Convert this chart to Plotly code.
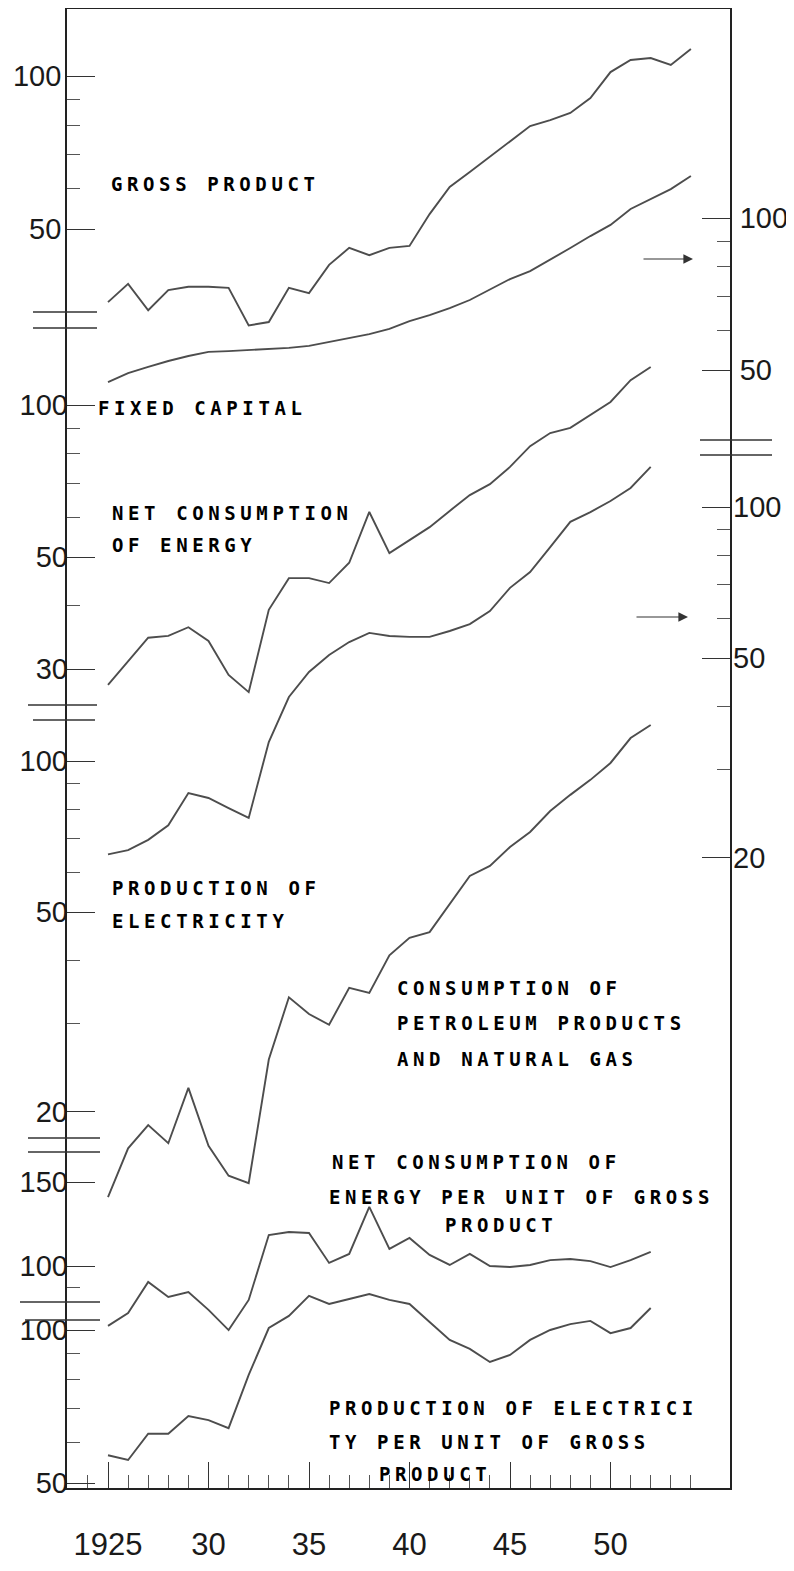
import math
import plotly.graph_objects as go

# ---------------- data (index numbers) ----------------
years_long = [1925, 1926, 1927, 1928, 1929, 1930, 1931, 1932, 1933, 1934,
              1935, 1936, 1937, 1938, 1939, 1940, 1941, 1942, 1943, 1944,
              1945, 1946, 1947, 1948, 1949, 1950, 1951, 1952, 1953, 1954]
years_short = [1925, 1926, 1927, 1928, 1929, 1930, 1931, 1932, 1933, 1934,
               1935, 1936, 1937, 1938, 1939, 1940, 1941, 1942, 1943, 1944,
               1945, 1946, 1947, 1948, 1949, 1950, 1951, 1952]

gross_product = [35.9, 39.0, 34.6, 37.9, 38.5, 38.5, 38.3, 32.3, 32.8, 38.3,
                 37.4, 42.5, 45.9, 44.4, 45.9, 46.3, 53.5, 60.5, 64.7, 69.3,
                 74.5, 79.7, 81.9, 84.6, 90.5, 101.8, 107.5, 108.5, 105.1, 113.0]
fixed_capital = [47.3, 49.3, 50.7, 52.1, 53.3, 54.3, 54.5, 54.8, 55.0, 55.3,
                 55.8, 56.8, 57.9, 58.9, 60.3, 62.5, 64.2, 66.3, 68.8, 72.3,
                 75.7, 78.5, 82.6, 87.2, 92.1, 96.9, 104.2, 109.0, 114.1, 121.1]
net_energy = [27.9, 31.0, 34.6, 34.9, 36.3, 34.1, 29.2, 27.0, 39.3, 45.4,
              45.4, 44.4, 48.7, 61.4, 50.9, 54.0, 57.3, 61.7, 66.3, 69.7,
              75.4, 82.9, 88.0, 90.1, 95.5, 101.4, 112.0, 118.9]
electricity = [20.3, 20.7, 21.7, 23.2, 26.9, 26.3, 25.1, 24.0, 34.0, 41.8,
               46.9, 50.7, 53.8, 56.1, 55.3, 55.1, 55.1, 56.6, 58.4, 62.0,
               69.0, 74.2, 83.2, 93.4, 97.7, 102.8, 109.1, 120.2]
petroleum_gas = [13.5, 16.9, 18.8, 17.3, 22.3, 17.1, 14.9, 14.4, 25.4, 33.8,
                 31.3, 29.8, 35.3, 34.5, 41.0, 44.4, 45.6, 51.9, 59.0, 61.8,
                 67.4, 72.2, 79.5, 85.6, 91.7, 99.1, 111.1, 118.0]
energy_per_gp = [74.9, 79.7, 92.6, 86.1, 88.2, 80.9, 73.4, 84.9, 116.1, 117.8,
                 117.3, 101.5, 106.0, 133.0, 108.6, 114.5, 105.5, 100.5, 106.0, 100.0,
                 99.5, 100.5, 102.9, 103.4, 102.4, 99.5, 102.9, 107.0]
elec_per_gp = [56.7, 55.5, 62.5, 62.5, 67.7, 66.5, 64.1, 81.6, 100.9, 106.6,
               116.7, 112.5, 115.1, 117.7, 114.6, 112.5, 103.7, 95.6, 91.8, 86.5,
               89.3, 95.6, 100.0, 102.7, 104.2, 98.6, 100.9, 110.5]

x_tickvals = [1925, 1930, 1935, 1940, 1945, 1950]
x_ticktext = ["1925", "30", "35", "40", "45", "50"]

# ---------------- layout geometry (page pixels) ----------------
PAGE_W, PAGE_H = 794, 1571
BODY = 8                                # default body margin of the html page
W, H = PAGE_W - BODY, PAGE_H - 2 * BODY
L, R, T, B = 67, 730, 9, 1488           # plot frame in page pixels
X0, XPX = 1925, 108                     # year 1925 sits at x=108 px
PX_PER_YEAR = 20.1

x_range = [X0 - (XPX - L) / PX_PER_YEAR, X0 + (R - XPX) / PX_PER_YEAR]


def log_range(value, ypix, px_per_octave):
    k = math.log10(2) / px_per_octave
    lv = math.log10(value)
    return [lv - (B - ypix) * k, lv + (ypix - T) * k]


def px(xp):
    return (xp - L) / (R - L)


def py(yp):
    return (B - yp) / (B - T)


LINE = dict(color="#4d4d4d", width=1.9)
TICKFONT = dict(family="Liberation Sans, Arial, sans-serif", size=29, color="#1a1a1a")

fig = go.Figure()
series = [
    (years_long, gross_product, "y", "Gross product"),
    (years_long, fixed_capital, "y2", "Fixed capital"),
    (years_short, net_energy, "y3", "Net consumption of energy"),
    (years_short, electricity, "y4", "Production of electricity"),
    (years_short, petroleum_gas, "y5", "Consumption of petroleum products and natural gas"),
    (years_short, energy_per_gp, "y6", "Net consumption of energy per unit of gross product"),
    (years_short, elec_per_gp, "y7", "Production of electricity per unit of gross product"),
]
for xs, ys, ax, name in series:
    fig.add_trace(go.Scatter(x=xs, y=ys, yaxis=ax, mode="lines", line=LINE,
                             name=name, showlegend=False))


def yaxis(rng, vals, minor_vals, side="left", show_line=False, overlay=True):
    d = dict(type="log", range=rng, domain=[0, 1], side=side,
             tickmode="array", tickvals=vals, ticktext=[str(v) for v in vals],
             ticks="inside", ticklen=28, tickwidth=1.3, tickcolor="#333",
             minor=dict(tickmode="array", tickvals=minor_vals, ticks="inside",
                        ticklen=13, tickwidth=1.1, tickcolor="#555"),
             showgrid=False, zeroline=False, showline=show_line,
             linecolor="#222", linewidth=1.8, tickfont=TICKFONT,
             ticklabelstandoff=-2 if side == "left" else 2,
             automargin=False, fixedrange=True, anchor="x")
    if overlay:
        d["overlaying"] = "y"
    return d


fig.update_layout(
    width=W, height=H,
    margin=dict(l=L - BODY, r=(BODY + W) - R, t=T - BODY, b=(BODY + H) - B,
                autoexpand=False),
    paper_bgcolor="white", plot_bgcolor="white",
    xaxis=dict(range=x_range, tickmode="array", tickvals=x_tickvals, ticktext=x_ticktext,
               ticks="inside", ticklen=26, tickwidth=1.4, tickcolor="#333",
               minor=dict(tickmode="array",
                          tickvals=[y for y in range(1924, 1956) if y % 5 != 0],
                          ticks="inside", ticklen=13, tickwidth=1.1, tickcolor="#555"),
               showline=True, mirror=True, linecolor="#222", linewidth=1.8,
               showgrid=False, zeroline=False, ticklabelstandoff=28,
               tickfont=dict(family="Liberation Sans, Arial, sans-serif",
                             size=31, color="#1a1a1a"),
               automargin=False, fixedrange=True),
    yaxis=yaxis(log_range(100, 76, 153), [50, 100], [60, 70, 80, 90],
                show_line=True, overlay=False),
    yaxis2=yaxis(log_range(100, 218, 152), [50, 100], [60, 70, 80, 90],
                 side="right", show_line=True),
    yaxis3=yaxis(log_range(100, 405, 152), [30, 50, 100], [40, 60, 70, 80, 90]),
    yaxis4=yaxis(log_range(100, 507, 151), [20, 50, 100], [30, 40, 60, 70, 80, 90],
                 side="right"),
    yaxis5=yaxis(log_range(100, 761, 151), [20, 50, 100], [30, 40, 60, 70, 80, 90]),
    yaxis6=yaxis(log_range(100, 1266, 143.6), [100, 150], [90]),
    yaxis7=yaxis(log_range(100, 1330, 153), [50, 100], [60, 70, 80, 90]),
)

# ---------------- scale-break marks on the axes ----------------
breaks = [(33, 97, 312), (33, 97, 328), (28, 97, 705), (33, 95, 720),
          (28, 100, 1138), (28, 100, 1152), (20, 100, 1302), (25, 100, 1320),
          (700, 772, 440), (700, 772, 455)]
for x0, x1, yb in breaks:
    fig.add_shape(type="line", xref="paper", yref="paper",
                  x0=px(x0), x1=px(x1), y0=py(yb), y1=py(yb),
                  line=dict(color="#333", width=1.4))

# ---------------- arrows pointing to the right-hand scales ----------------
for xt, xh, ya in [(642, 693, 259), (635, 688, 617)]:
    fig.add_annotation(xref="paper", yref="paper", x=px(xh), y=py(ya),
                       ax=-(xh - xt), ay=0, axref="pixel", ayref="pixel",
                       text="", showarrow=True, arrowhead=2, arrowsize=1.6,
                       arrowwidth=1.2, arrowcolor="#333")

# ---------------- series labels ----------------
LABEL_FONT = dict(family="DejaVu Sans Mono, Liberation Mono, monospace", size=19,
                  color="#000", weight="bold")
labels = [
    ("GROSS PRODUCT", 109, 184),
    ("FIXED CAPITAL", 96, 408),
    ("NET CONSUMPTION", 110, 513),
    ("OF ENERGY", 110, 545),
    ("PRODUCTION OF", 110, 888),
    ("ELECTRICITY", 110, 921),
    ("CONSUMPTION OF", 395, 988),
    ("PETROLEUM PRODUCTS", 395, 1023),
    ("AND NATURAL GAS", 395, 1059),
    ("NET CONSUMPTION OF", 330, 1162),
    ("ENERGY PER UNIT OF GROSS", 327, 1197),
    ("PRODUCT", 443, 1225),
    ("PRODUCTION OF ELECTRICI", 327, 1408),
    ("TY PER UNIT OF GROSS", 327, 1442),
    ("PRODUCT", 377, 1474),
]
for txt, xl, yc in labels:
    fig.add_annotation(xref="paper", yref="paper", x=px(xl), y=py(yc),
                       xanchor="left", yanchor="middle", showarrow=False,
                       text='<span style="letter-spacing:4.6px">' + txt + "</span>",
                       font=LABEL_FONT)

fig.write_html("out.html")
